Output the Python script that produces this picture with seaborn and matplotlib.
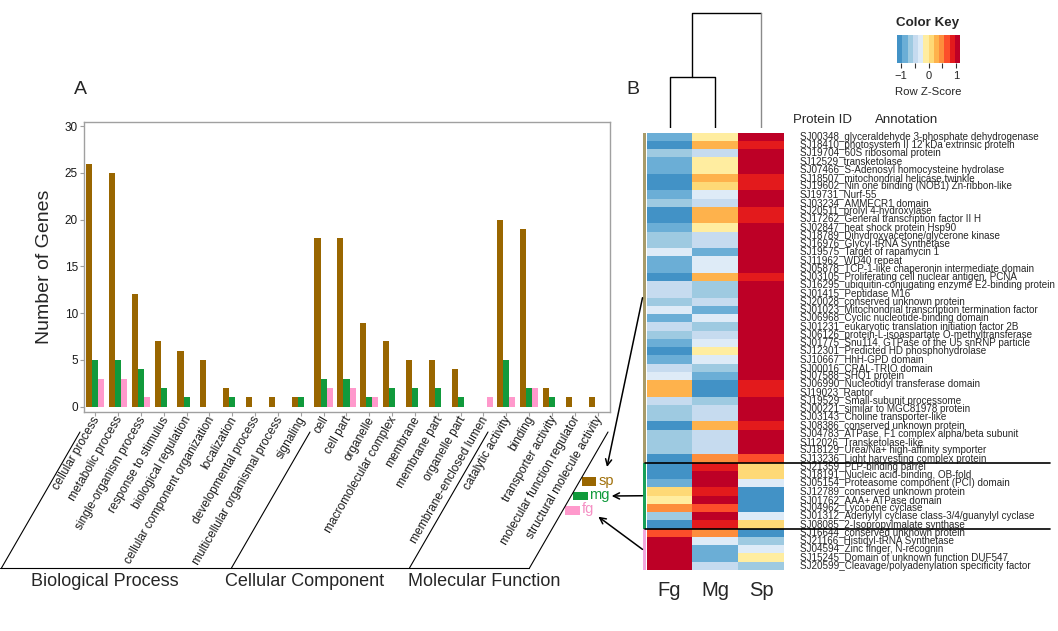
import numpy as np
import pandas as pd
import matplotlib
matplotlib.use("Agg")
import matplotlib.pyplot as plt
import matplotlib.transforms as mtransforms
from matplotlib.colors import ListedColormap
from matplotlib.patches import Rectangle, FancyArrowPatch
from matplotlib.lines import Line2D
import seaborn as sns

# ---------------- Panel A data ----------------
bp_terms = ["cellular process", "metabolic process", "single-organism process",
            "response to stimulus", "biological regulation",
            "cellular component organization", "localization",
            "developmental process", "multicellular organismal process", "signaling"]
cc_terms = ["cell", "cell part", "organelle", "macromolecular complex", "membrane",
            "membrane part", "organelle part", "membrane-enclosed lumen"]
mf_terms = ["catalytic activity", "binding", "transporter activity",
            "molecular function regulator", "structural molecule activity"]
group_names = ["Biological Process", "Cellular Component", "Molecular Function"]

sp_counts = [26, 25, 12, 7, 6, 5, 2, 1, 1, 1, 18, 18, 9, 7, 5, 5, 4, 0, 20, 19, 2, 1, 1]
mg_counts = [5, 5, 4, 2, 1, 0, 1, 0, 0, 1, 3, 3, 1, 2, 2, 2, 1, 0, 5, 2, 1, 0, 0]
fg_counts = [3, 3, 1, 0, 0, 0, 0, 0, 0, 0, 2, 2, 1, 0, 0, 0, 0, 1, 1, 2, 0, 0, 0]
species = ["sp", "mg", "fg"]
bar_colors = ["#996600", "#119a3c", "#ff99cc"]
y_ticks = [0, 5, 10, 15, 20, 25, 30]

# ---------------- Panel B data ----------------
protein_ids = ["SJ00348", "SJ18410", "SJ19704", "SJ12529", "SJ07466", "SJ18507", "SJ19602",
               "SJ19731", "SJ03234", "SJ20511", "SJ17262", "SJ02847", "SJ18789", "SJ16976",
               "SJ19575", "SJ11962", "SJ05878", "SJ03105", "SJ16295", "SJ01415", "SJ20028",
               "SJ01023", "SJ06968", "SJ01231", "SJ06126", "SJ01775", "SJ12301", "SJ10667",
               "SJ00016", "SJ07588", "SJ06990", "SJ19023", "SJ19529", "SJ00221", "SJ03143",
               "SJ08386", "SJ04783", "SJ12026", "SJ18129", "SJ13236", "SJ21359", "SJ18191",
               "SJ05154", "SJ12789", "SJ01762", "SJ04962", "SJ01312", "SJ08085", "SJ16644",
               "SJ21166", "SJ04594", "SJ15245", "SJ20599"]
annotations = [
    "glyceraldehyde 3-phosphate dehydrogenase", "photosystem II 12 kDa extrinsic protein",
    "60S ribosomal protein", "transketolase", "S-Adenosyl homocysteine hydrolase",
    "mitochondrial helicase twinkle", "Nin one binding (NOB1) Zn-ribbon-like", "Nurf-55",
    "AMMECR1 domain", "prolyl 4-hydroxylase", "General transcription factor II H",
    "heat shock protein Hsp90", "Dihydroxyacetone/glycerone kinase", "Glycyl-tRNA Synthetase",
    "Target of rapamycin 1", "WD40 repeat", "TCP-1-like chaperonin intermediate domain",
    "Proliferating cell nuclear antigen, PCNA", "ubiquitin-conjugating enzyme E2-binding protein",
    "Peptidase M16", "conserved unknown protein", "Mitochondrial transcription termination factor",
    "Cyclic nucleotide-binding domain", "eukaryotic translation initiation factor 2B",
    "protein-L-isoaspartate O-methyltransferase", "Snu114, GTPase of the U5 snRNP particle",
    "Predicted HD phosphohydrolase", "HhH-GPD domain", "CRAL-TRIO domain", "SHQ1 protein",
    "Nucleotidyl transferase domain", "Raptor", "Small-subunit processome",
    "similar to MGC81978 protein", "Choline transporter-like", "conserved unknown protein",
    "ATPase, F1 complex alpha/beta subunit", "Transketolase-like",
    "Urea/Na+ high-affinity symporter", "Light harvesting complex protein",
    "PLP-binding barrel", "Nucleic acid-binding, OB-fold", "Proteasome component (PCI) domain",
    "conserved unknown protein", "AAA+ ATPase domain", "Lycopene cyclase",
    "Adenylyl cyclase class-3/4/guanylyl cyclase", "2-Isopropylmalate synthase",
    "conserved unknown protein", "Histidyl-tRNA Synthetase", "Zinc finger, N-recognin",
    "Domain of unknown function DUF547", "Cleavage/polyadenylation specificity factor"]

fg_z = [-0.87, -1.06, -0.67, -0.87, -0.87, -1.06, -1.06, -0.87, -0.67, -1.06,
        -1.06, -0.87, -0.67, -0.67, -0.29, -0.87, -0.87, -1.06, -0.48, -0.48,
        -0.67, -0.29, -0.87, -0.48, -0.67, -0.87, -1.06, -0.87, -0.48, -0.29,
        0.29, 0.29, -0.48, -0.67, -0.67, -1.06, -0.67, -0.67, -0.67, -1.06,
        -1.06, -1.06, -0.87, 0.10, -0.10, 0.48, -0.67, -1.06, 0.67, 1.06,
        1.06, 1.06, 1.06]
mg_z = [-0.10, 0.29, -0.48, -0.10, -0.10, 0.29, 0.10, -0.29, -0.48, 0.29,
        0.29, -0.10, -0.48, -0.48, -0.87, -0.29, -0.29, 0.29, -0.67, -0.67,
        -0.48, -0.87, -0.29, -0.67, -0.48, -0.29, -0.10, -0.29, -0.67, -0.87,
        -1.06, -1.06, -0.67, -0.48, -0.48, 0.29, -0.48, -0.48, -0.48, 0.48,
        0.87, 1.06, 1.06, 0.87, 1.06, 0.67, 1.06, 0.87, 0.48, -0.29,
        -0.87, -0.87, -0.48]
sp_z = [1.06, 0.87, 1.06, 1.06, 1.06, 0.87, 0.87, 1.06, 1.06, 0.87,
        0.87, 1.06, 1.06, 1.06, 1.06, 1.06, 1.06, 0.87, 1.06, 1.06,
        1.06, 1.06, 1.06, 1.06, 1.06, 1.06, 1.06, 1.06, 1.06, 1.06,
        0.87, 0.87, 1.06, 1.06, 1.06, 0.87, 1.06, 1.06, 1.06, 0.67,
        0.10, 0.10, -0.29, -1.06, -1.06, -1.06, -0.29, 0.10, -1.06, -0.67,
        -0.29, -0.10, -0.67]
heat_columns = ["Fg", "Mg", "Sp"]
row_group_sizes = [40, 8, 5]
row_group_colors = ["#a89b6a", "#18a058", "#f2a7dd"]
dendro_heights = [0.44, 1.0]          # Fg+Mg merge, (Fg,Mg)+Sp merge
key_colors = ["#4292c6", "#6baed6", "#9ecae1", "#c6dbef", "#deebf7", "#ffeda0",
              "#fed976", "#feb24c", "#fd8d3c", "#fc4e2a", "#e31a1c", "#bd0026"]
z_lim = 1.155
key_ticks = [-1, -0.5, 0, 0.5, 1]
key_ticklabels = ["\u22121", "", "0", "", "1"]

# ---------------- figure ----------------
sns.set_style("white")
plt.rcParams["font.family"] = ["Liberation Sans", "DejaVu Sans"]

W, H = 1058, 631
fig = plt.figure(figsize=(W / 100, H / 100), dpi=100)


def fx(x):
    return x / W


def fy(y):
    return 1 - y / H


def box(x0, y0, x1, y1):
    return [fx(x0), fy(y1), fx(x1) - fx(x0), fy(y0) - fy(y1)]


# ---- Panel A: bar chart ----
terms = bp_terms + cc_terms + mf_terms
df = pd.DataFrame({
    "term": terms * 3,
    "species": np.repeat(species, len(terms)),
    "count": sp_counts + mg_counts + fg_counts,
})
axA = fig.add_axes(box(84.3, 121.7, 610, 411.7))
sns.barplot(data=df, x="term", y="count", hue="species", order=terms,
            hue_order=species, palette=dict(zip(species, bar_colors)),
            width=0.8, linewidth=0, saturation=1, errorbar=None,
            legend=False, ax=axA)
axA.set_xlim(-0.48, 22.54)
axA.set_ylim(-0.53, 30.47)
axA.set_yticks(y_ticks)
axA.set_xlabel("")
axA.set_ylabel("Number of Genes", fontsize=14)
axA.yaxis.set_label_coords(-0.06, 0.5)
for s in axA.spines.values():
    s.set_color("#a0a0a0")
    s.set_linewidth(1.0)
axA.tick_params(axis="both", which="major", direction="out", length=3, width=0.8,
                color="#a0a0a0", labelcolor="#1a1a1a", left=True, bottom=True)
axA.tick_params(axis="y", labelsize=8.5, pad=1.5)
axA.tick_params(axis="x", pad=1.0)
axA.set_xticks(range(len(terms)))
axA.set_xticklabels(terms, rotation=60, ha="right", va="center",
                    rotation_mode="anchor", fontsize=8.6)
offset = mtransforms.ScaledTranslation(2.0 / 100, 0, fig.dpi_scale_trans)
for lab in axA.get_xticklabels():
    lab.set_transform(lab.get_transform() + offset)

fig.text(fx(80.5), fy(90), "A", ha="center", va="center", fontsize=14)

# slanted group separators + baseline
sep_top_x = [80, 310, 488, 608]
top_y, bot_y = 432, 568
bottoms = []
for xt in sep_top_x:
    xb = xt - (bot_y - top_y) / np.tan(np.radians(60))
    bottoms.append(xb)
    fig.add_artist(Line2D([fx(xt), fx(xb)], [fy(top_y), fy(bot_y)],
                          color="black", lw=0.8, transform=fig.transFigure))
fig.add_artist(Line2D([fx(0), fx(bottoms[-1])], [fy(bot_y), fy(bot_y)],
                      color="black", lw=0.8, transform=fig.transFigure))
for name, cx in zip(group_names, [105, 305, 484]):
    fig.text(fx(cx), fy(582), name, ha="center", va="center", fontsize=13)

# legend (staggered)
leg_boxes = [(581.7, 477.3), (573.0, 491.7), (565.0, 506.0)]
text_colors = ["#a0700a", "#119a3c", "#f590c4"]
for (x0, y0), c, tc, lab in zip(leg_boxes, bar_colors, text_colors, species):
    fig.add_artist(Rectangle((fx(x0), fy(y0 + 8.5)), 14.5 / W, 8.5 / H,
                             transform=fig.transFigure, facecolor=c, edgecolor="none"))
    fig.text(fx(x0 + 16.5), fy(y0 + 3.5), lab, ha="left", va="center",
             fontsize=10.5, color=tc)

# ---- Panel B: heatmap ----
row_labels = [f"{p}_{a}" for p, a in zip(protein_ids, annotations)]
zdf = pd.DataFrame({"Fg": fg_z, "Mg": mg_z, "Sp": sp_z}, index=row_labels)[heat_columns]
cmap = ListedColormap(key_colors)

axH = fig.add_axes(box(646.7, 132.7, 784, 570))
sns.heatmap(zdf, cmap=cmap, vmin=-z_lim, vmax=z_lim, cbar=False, ax=axH,
            xticklabels=True, yticklabels=True)
axH.yaxis.tick_right()
axH.set_yticks(np.arange(len(row_labels)) + 0.5)
axH.set_yticklabels(row_labels, rotation=0, va="center", fontsize=7.1)
axH.tick_params(axis="y", length=0, pad=11.5, labelright=True, labelleft=False)
axH.set_xticklabels(heat_columns, rotation=0, fontsize=14.5)
axH.tick_params(axis="x", length=0, pad=8)
axH.set_xlabel("")
axH.set_ylabel("")

# side colour bar
group_idx = np.repeat(np.arange(len(row_group_sizes)), row_group_sizes)
axS = fig.add_axes(box(642.5, 132.7, 645.5, 570))
sns.heatmap(group_idx[:, None], cmap=ListedColormap(row_group_colors), vmin=-0.5,
            vmax=len(row_group_sizes) - 0.5, cbar=False, ax=axS,
            xticklabels=False, yticklabels=False)

# group separator lines
blend = mtransforms.blended_transform_factory(fig.transFigure, axH.transData)
cum = np.cumsum(row_group_sizes)
for b in cum[:-1]:
    fig.add_artist(Line2D([fx(645), fx(1050)], [b, b], color="black", lw=1.2,
                          transform=blend))

# column dendrogram
axD = fig.add_axes(box(646.7, 10, 784, 128))
h1, h2 = dendro_heights
axD.plot([0.5, 0.5, 1.5, 1.5], [0, h1, h1, 0], color="black", lw=1)
axD.plot([1.0, 1.0, 2.5], [h1, h2, h2], color="black", lw=1)
axD.plot([2.5, 2.5], [h2, 0], color="#8a8a8a", lw=1)
axD.set_xlim(0, 3)
axD.set_ylim(0, h2 * 118 / 115)
axD.axis("off")

fig.text(fx(633), fy(90), "B", ha="center", va="center", fontsize=14)
fig.text(fx(793), fy(120), "Protein ID", ha="left", va="center", fontsize=9.5)
fig.text(fx(875), fy(120), "Annotation", ha="left", va="center", fontsize=9.5)

# colour key
axK = fig.add_axes(box(897, 35, 960, 63))
edges = np.linspace(-z_lim, z_lim, len(key_colors) + 1)
centers = (edges[:-1] + edges[1:]) / 2
axK.pcolormesh(edges, [0, 1], centers[None, :], cmap=cmap, vmin=-z_lim, vmax=z_lim)
axK.set_xlim(-z_lim, z_lim)
axK.set_ylim(0, 1)
axK.set_yticks([])
axK.set_xticks(key_ticks)
axK.set_xticklabels(key_ticklabels, fontsize=8)
axK.tick_params(axis="x", direction="out", length=3.5, width=0.8, color="#333333",
                pad=2, bottom=True)
for s in axK.spines.values():
    s.set_visible(False)
fig.text(fx(928), fy(23), "Color Key", ha="center", va="center", fontsize=9.6,
         fontweight="bold")
fig.text(fx(928), fy(92), "Row Z-Score", ha="center", va="center", fontsize=8.2)

# arrows from heatmap groups to legend
starts_y = [(0 + cum[0]) / 2, (cum[0] + cum[1]) / 2, (cum[1] + cum[2]) / 2]
ends = [(607, 467), (611.7, 496), (598.3, 516.7)]
for sy, (ex, ey) in zip(starts_y, ends):
    dpy = axH.transData.transform((0, sy))[1]
    start = (fx(642.5), dpy / H)
    arr = FancyArrowPatch(start, (fx(ex), fy(ey)), transform=fig.transFigure,
                          arrowstyle="->", mutation_scale=11, lw=1.1, color="black",
                          shrinkA=0, shrinkB=0)
    fig.add_artist(arr)

fig.savefig("out.png", dpi=100)
